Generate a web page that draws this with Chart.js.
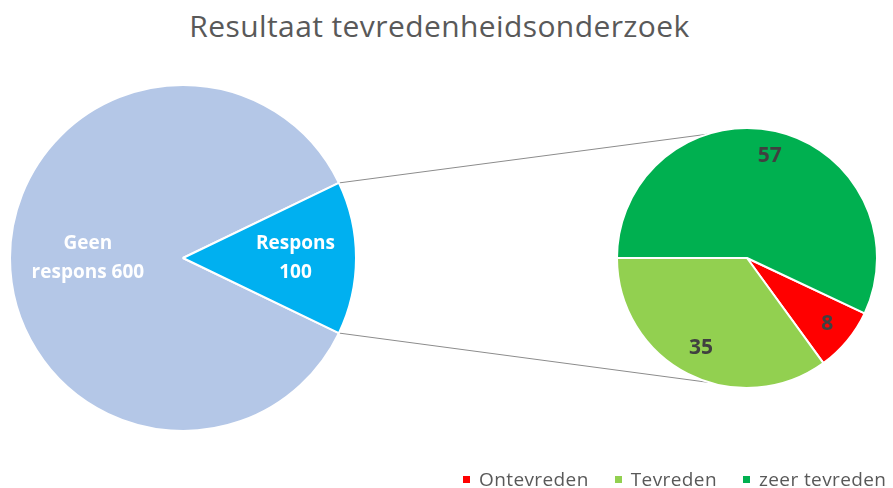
<!DOCTYPE html>
<html>
<head>
<meta charset="utf-8">
<script src="https://cdn.jsdelivr.net/npm/chart.js@4.4.0/dist/chart.umd.min.js"></script>
<style>
  body { margin: 0; background: #fff; font-family: 'Open Sans', sans-serif; }
  #wrap { position: relative; width: 893px; height: 488px; overflow: hidden; }
  #title { position: absolute; left: -7px; width: 893px; top: 8px; text-align: center;
           font-size: 30px; letter-spacing: 0.4px; color: #595959; line-height: 36px; }
  #leftBox { position: absolute; left: 9px; top: 84px; width: 348px; height: 348px; }
  #rightBox { position: absolute; left: 616px; top: 127px; width: 262px; height: 262px; }
  #lines { position: absolute; left: 0; top: 0; }
  #legend { position: absolute; left: 463px; top: 466px; width: 520px; display: flex; white-space: nowrap;
            font-size: 19px; letter-spacing: 0.4px; color: #595959; line-height: 26px; }
  .item { display: flex; align-items: center; margin-right: 26px; }
  .swatch { width: 7px; height: 7px; margin-right: 9px; flex: none; }
</style>
</head>
<body>
<div id="wrap">
  <div id="title">Resultaat tevredenheidsonderzoek</div>
  <canvas id="lines" width="893" height="488"></canvas>
  <div id="leftBox"><canvas id="leftPie"></canvas></div>
  <div id="rightBox"><canvas id="rightPie"></canvas></div>
  <div id="legend"></div>
</div>
<script>
// main pie
const mainLabels = ['Geen respons', 'Respons'];
const mainValues = [600, 100];
const mainColors = ['#b4c7e7', '#00b0f0'];

// detail pie (split of "Respons")
const detailLabels = ['Ontevreden', 'Tevreden', 'zeer tevreden'];
const detailValues = [8, 35, 57];
const detailColors = ['#ff0000', '#92d050', '#00b050'];

const sum = arr => arr.reduce((a, b) => a + b, 0);

// Respons slice centred on the right side
const mainRotation = 90 + (mainValues[1] / sum(mainValues)) * 360 / 2;
// "zeer tevreden" starts at 9 o'clock
const detailRotation = 270 - ((detailValues[0] + detailValues[1]) / sum(detailValues)) * 360;

// draw the value labels inside the slices
const sliceLabels = {
  id: 'sliceLabels',
  afterDatasetsDraw(chart, args, opts) {
    const ctx = chart.ctx;
    const meta = chart.getDatasetMeta(0);
    ctx.save();
    ctx.font = opts.font;
    ctx.fillStyle = opts.color;
    ctx.textAlign = 'center';
    ctx.textBaseline = 'middle';
    meta.data.forEach((arc, i) => {
      const p = arc.getProps(['x', 'y', 'startAngle', 'endAngle', 'outerRadius'], true);
      const mid = (p.startAngle + p.endAngle) / 2;
      const r = p.outerRadius * opts.radius[i];
      const cx = p.x + Math.cos(mid) * r;
      const cy = p.y + Math.sin(mid) * r;
      const lines = opts.text(i);
      const lh = opts.lineHeight;
      lines.forEach((t, k) => {
        ctx.fillText(t, cx, cy + (k - (lines.length - 1) / 2) * lh);
      });
    });
    ctx.restore();
  }
};

function pieOptions(rotation, labelOpts) {
  return {
    responsive: true,
    maintainAspectRatio: false,
    animation: false,
    rotation: rotation,
    layout: { padding: 0 },
    plugins: {
      legend: { display: false },
      tooltip: { enabled: false },
      sliceLabels: labelOpts
    }
  };
}

const leftChart = new Chart(document.getElementById('leftPie'), {
  type: 'pie',
  data: {
    labels: mainLabels,
    datasets: [{ data: mainValues, backgroundColor: mainColors, borderColor: '#fff', borderWidth: 2 }]
  },
  options: pieOptions(mainRotation, {
    font: 'bold 19px "Open Sans"',
    color: '#ffffff',
    lineHeight: 29,
    radius: [0.55, 0.65],
    text: i => i === 0 ? ['Geen', 'respons ' + mainValues[0]] : ['Respons', String(mainValues[1])]
  }),
  plugins: [sliceLabels]
});

const rightChart = new Chart(document.getElementById('rightPie'), {
  type: 'pie',
  data: {
    labels: detailLabels,
    datasets: [{ data: detailValues, backgroundColor: detailColors, borderColor: '#fff', borderWidth: 2 }]
  },
  options: pieOptions(detailRotation, {
    font: 'bold 21px "Open Sans"',
    color: '#404040',
    lineHeight: 28,
    radius: [0.8, 0.78, 0.8],
    text: i => [String(detailValues[i])]
  }),
  plugins: [sliceLabels]
});

// connector lines between the two pies
function drawConnectors() {
  const ctx = document.getElementById('lines').getContext('2d');
  ctx.clearRect(0, 0, 893, 488);
  const lb = document.getElementById('leftBox');
  const rb = document.getElementById('rightBox');
  const a = leftChart.getDatasetMeta(0).data[1].getProps(['x', 'y', 'startAngle', 'endAngle', 'outerRadius'], true);
  const b = rightChart.getDatasetMeta(0).data[0].getProps(['x', 'y', 'outerRadius'], true);
  const ax = lb.offsetLeft + a.x, ay = lb.offsetTop + a.y;
  const bx = rb.offsetLeft + b.x, by = rb.offsetTop + b.y;
  const topB = -Math.PI / 2 - 0.31, botB = Math.PI / 2 + 0.29;
  ctx.strokeStyle = '#8c8c8c';
  ctx.lineWidth = 1;
  ctx.beginPath();
  ctx.moveTo(ax + Math.cos(a.startAngle) * a.outerRadius, ay + Math.sin(a.startAngle) * a.outerRadius);
  ctx.lineTo(bx + Math.cos(topB) * b.outerRadius, by + Math.sin(topB) * b.outerRadius);
  ctx.moveTo(ax + Math.cos(a.endAngle) * a.outerRadius, ay + Math.sin(a.endAngle) * a.outerRadius);
  ctx.lineTo(bx + Math.cos(botB) * b.outerRadius, by + Math.sin(botB) * b.outerRadius);
  ctx.stroke();
}
drawConnectors();

// legend
const legend = document.getElementById('legend');
detailLabels.forEach((lab, i) => {
  const item = document.createElement('div');
  item.className = 'item';
  item.innerHTML = '<span class="swatch" style="background:' + detailColors[i] + '"></span>' + lab;
  legend.appendChild(item);
});
</script>
</body>
</html>
